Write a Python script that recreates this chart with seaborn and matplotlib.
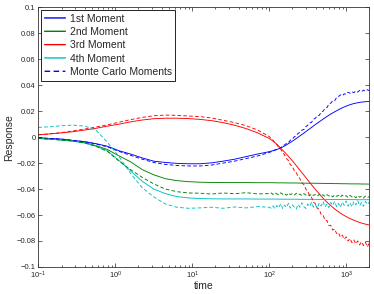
import matplotlib
matplotlib.use('Agg')
import matplotlib.pyplot as plt
import seaborn as sns
from matplotlib.ticker import LogLocator, FixedLocator, FixedFormatter

# sample times (log spaced, denser at late times)
times = [0.1, 0.14, 0.2, 0.28, 0.4, 0.56, 0.79, 1.12, 1.58, 2.24, 3.16,
         4.47, 6.31, 8.91, 12.6, 17.8, 25.1, 35.5, 50.1, 70.8, 100,
         112, 126, 141, 158, 178, 200, 224, 251, 282, 316, 355, 398,
         447, 501, 562, 631, 708, 794, 891, 1000, 1122, 1259, 1413,
         1585, 1778, 2000]
# Monte Carlo runs are sampled more finely after t = 100
mc_tail_times = [106, 112, 119, 126, 133, 141, 150, 158, 168, 178,
                 188, 200, 211, 224, 237, 251, 266, 282, 299, 316,
                 335, 355, 376, 398, 422, 447, 473, 501, 531, 562,
                 596, 631, 668, 708, 750, 794, 841, 891, 944, 1000,
                 1059, 1122, 1189, 1259, 1334, 1413, 1496, 1585, 1679, 1778,
                 1884, 2000]
mc_times = times[:21] + mc_tail_times

m1 = [-0.0005, -0.001, -0.0015, -0.0025, -0.0035, -0.005, -0.007, -0.0105,
      -0.013, -0.016, -0.0185, -0.0195, -0.0202, -0.0205, -0.0205, -0.0198,
      -0.0185, -0.017, -0.015, -0.013, -0.0112,
      -0.0104, -0.0095, -0.0084, -0.0068, -0.005, -0.0031, -0.0011, 0.001,
      0.0031, 0.0053, 0.0075, 0.0097, 0.0118, 0.0139, 0.0159, 0.0178,
      0.0195, 0.0211, 0.0226, 0.0239, 0.025, 0.0259, 0.0265, 0.027,
      0.0273, 0.0275]
m2 = [-0.001, -0.0015, -0.0022, -0.003, -0.0042, -0.0065, -0.0095, -0.0145,
      -0.019, -0.025, -0.029, -0.032, -0.0335, -0.0343, -0.0347, -0.0349,
      -0.035, -0.035, -0.035, -0.0351, -0.0351,
      -0.0351, -0.0352, -0.0352, -0.0352, -0.0353, -0.0353, -0.0353,
      -0.0354, -0.0354, -0.0355, -0.0355, -0.0355, -0.0356, -0.0356,
      -0.0357, -0.0357, -0.0358, -0.0358, -0.0359, -0.0359, -0.036,
      -0.036, -0.036, -0.0361, -0.0361, -0.0362]
m3 = [0.0018, 0.0025, 0.0033, 0.0042, 0.0055, 0.0068, 0.0085, 0.01, 0.0118,
      0.0132, 0.0142, 0.0146, 0.0146, 0.0143, 0.0137, 0.0127, 0.0112,
      0.0092, 0.0066, 0.0033, -0.001,
      -0.003, -0.0055, -0.0085, -0.0115, -0.0148, -0.0182, -0.0218,
      -0.0255, -0.0292, -0.033, -0.0367, -0.0402, -0.0437, -0.047, -0.05,
      -0.0528, -0.0553, -0.0575, -0.0595, -0.0612, -0.0627, -0.064,
      -0.0652, -0.0662, -0.067, -0.0677]
m4 = [-0.001, -0.0015, -0.0022, -0.003, -0.0045, -0.007, -0.0105, -0.018,
      -0.026, -0.034, -0.04, -0.0435, -0.0458, -0.0468, -0.0473, -0.0475,
      -0.0476, -0.0476, -0.0476, -0.0477, -0.0477,
      -0.0477, -0.0477, -0.0478, -0.0478, -0.0478, -0.0478, -0.0478,
      -0.0479, -0.0479, -0.0479, -0.0479, -0.0479, -0.048, -0.048,
      -0.048, -0.048, -0.048, -0.0481, -0.0481, -0.0481, -0.0481,
      -0.0481, -0.0482, -0.0482, -0.0482, -0.0482]

# Monte Carlo moments: smooth part up to t = 100, then noisy tail
mc1_head = [-0.0005, -0.001, -0.0015, -0.0025, -0.0035, -0.0052, -0.0075,
            -0.011, -0.014, -0.017, -0.0195, -0.021, -0.0218, -0.0222,
            -0.0222, -0.0215, -0.02, -0.0185, -0.0165, -0.0145, -0.0118]
mc1_tail = [-0.0112, -0.0109, -0.0099, -0.0095, -0.0085, -0.0082, -0.0067,
            -0.0060, -0.0047, -0.0042, -0.0024, -0.0014, 0.0002, 0.0010,
            0.0029, 0.0037, 0.0054, 0.0059, 0.0081, 0.0091, 0.0109, 0.0114,
            0.0138, 0.0146, 0.0165, 0.0168, 0.0192, 0.0200, 0.0222, 0.0228,
            0.0254, 0.0262, 0.0281, 0.0280, 0.0305, 0.0312, 0.0326, 0.0318,
            0.0334, 0.0330, 0.0346, 0.0338, 0.0350, 0.0343, 0.0355, 0.0347,
            0.0360, 0.0351, 0.0362, 0.0354, 0.0366, 0.0358]
mc2_head = [-0.001, -0.0015, -0.0022, -0.003, -0.0045, -0.007, -0.011,
            -0.0185, -0.025, -0.031, -0.036, -0.04, -0.042, -0.043, -0.0432,
            -0.0438, -0.043, -0.0436, -0.0428, -0.0437, -0.0435]
mc2_tail = [-0.0430, -0.0441, -0.0428, -0.0438, -0.0445, -0.0429, -0.0440,
            -0.0434, -0.0447, -0.0431, -0.0442, -0.0436, -0.0448, -0.0433,
            -0.0444, -0.0439, -0.0450, -0.0435, -0.0446, -0.0440, -0.0452,
            -0.0437, -0.0449, -0.0442, -0.0455, -0.0440, -0.0451, -0.0444,
            -0.0457, -0.0443, -0.0453, -0.0447, -0.0460, -0.0445, -0.0456,
            -0.0449, -0.0462, -0.0447, -0.0458, -0.0451, -0.0465, -0.0449,
            -0.0460, -0.0453, -0.0467, -0.0451, -0.0463, -0.0455, -0.0469,
            -0.0454, -0.0465, -0.0458]
mc3_head = [0.0018, 0.0025, 0.0035, 0.0048, 0.0062, 0.0078, 0.0095, 0.0115,
            0.0135, 0.0152, 0.0165, 0.017, 0.0168, 0.0163, 0.0158, 0.0148,
            0.013, 0.0112, 0.0088, 0.0055, 0.0005]
mc3_tail = [-0.0012, -0.0023, -0.0045, -0.0058, -0.0081, -0.0092, -0.0121,
            -0.0136, -0.0166, -0.0181, -0.0212, -0.0226, -0.0257, -0.0270,
            -0.0305, -0.0320, -0.0353, -0.0365, -0.0400, -0.0414, -0.0451,
            -0.0463, -0.0502, -0.0512, -0.0548, -0.0556, -0.0596, -0.0600,
            -0.0640, -0.0642, -0.0680, -0.0680, -0.0716, -0.0708, -0.0742,
            -0.0735, -0.0770, -0.0755, -0.0786, -0.0768, -0.0800, -0.0781,
            -0.0812, -0.0792, -0.0822, -0.0800, -0.0830, -0.0806, -0.0835,
            -0.0810, -0.0845, -0.0815]
mc4_head = [0.0075, 0.008, 0.0088, 0.0093, 0.0085, 0.0055, -0.004, -0.015,
            -0.028, -0.039, -0.046, -0.0515, -0.054, -0.0548, -0.0545,
            -0.054, -0.0548, -0.0538, -0.0545, -0.0535, -0.054]
mc4_tail = [-0.0548, -0.0530, -0.0552, -0.0527, -0.0545, -0.0512, -0.0550,
            -0.0524, -0.0541, -0.0509, -0.0547, -0.0522, -0.0538, -0.0555,
            -0.0518, -0.0540, -0.0506, -0.0536, -0.0549, -0.0515, -0.0533,
            -0.0502, -0.0540, -0.0520, -0.0546, -0.0508, -0.0530, -0.0497,
            -0.0538, -0.0515, -0.0543, -0.0503, -0.0527, -0.0495, -0.0535,
            -0.0510, -0.0540, -0.0500, -0.0525, -0.0492, -0.0532, -0.0506,
            -0.0537, -0.0498, -0.0522, -0.0490, -0.0528, -0.0503, -0.0533,
            -0.0495, -0.0518, -0.0500]

labels = ['1st Moment', '2nd Moment', '3rd Moment', '4th Moment',
          'Monte Carlo Moments']
colors = ['#0000ff', '#008000', '#ff0000', '#00bfbf']
dash = (0, (4, 2.5))

sns.set_style('ticks')
plt.rcParams['font.family'] = ['Liberation Sans', 'DejaVu Sans']
plt.rcParams['mathtext.fontset'] = 'custom'
plt.rcParams['mathtext.rm'] = 'Liberation Sans'

fig = plt.figure(figsize=(3.74, 2.94), dpi=100)
ax = fig.add_axes([0.1025, 0.092, 0.885, 0.883])

for vals, col in zip([m1, m2, m3, m4], colors):
    sns.lineplot(x=times, y=vals, ax=ax, color=col, lw=0.65)
mc_series = [mc1_head + mc1_tail, mc2_head + mc2_tail,
             mc3_head + mc3_tail, mc4_head + mc4_tail]
for vals, col in zip(mc_series, colors):
    sns.lineplot(x=mc_times, y=vals, ax=ax, color=col, lw=0.65,
                 linestyle=dash)

ax.set_xscale('log')
ax.set_xlim(0.1, 2000)
ax.set_ylim(-0.1, 0.1)

yt = [-0.1, -0.08, -0.06, -0.04, -0.02, 0, 0.02, 0.04, 0.06, 0.08, 0.1]
ytl = ['\u22120.1', '\u22120.08', '\u22120.06', '\u22120.04', '\u22120.02',
       '0', '0.02', '0.04', '0.06', '0.08', '0.1']
ax.yaxis.set_major_locator(FixedLocator(yt))
ax.yaxis.set_major_formatter(FixedFormatter(ytl))
ax.xaxis.set_major_locator(LogLocator(base=10, numticks=10))
ax.xaxis.set_minor_locator(LogLocator(base=10, subs=range(2, 10),
                                      numticks=20))

ax.tick_params(which='both', direction='in', top=True, right=True,
               labelsize=5.5, width=0.5, pad=2)
ax.tick_params(which='major', length=3)
ax.tick_params(which='minor', length=1.6)
for s in ax.spines.values():
    s.set_linewidth(0.6)
    s.set_color('#333333')

ax.set_xlabel('time', fontsize=7.5, labelpad=0)
ax.set_ylabel('Response', fontsize=7.5, labelpad=2)

# reuse the drawn lines as legend handles so colours match exactly
handles = list(ax.get_lines()[:5])
leg = ax.legend(handles, labels, loc='upper left',
                fontsize=7.5, handlelength=2.0, labelspacing=0.32,
                borderaxespad=0.25, borderpad=0.35, handletextpad=0.4,
                fancybox=False, framealpha=1)
leg.get_frame().set_edgecolor('black')
leg.get_frame().set_linewidth(0.6)
for ln in leg.get_lines():
    ln.set_linewidth(1.0)
    ln.set_snap(False)

fig.savefig('out.png', dpi=100)
